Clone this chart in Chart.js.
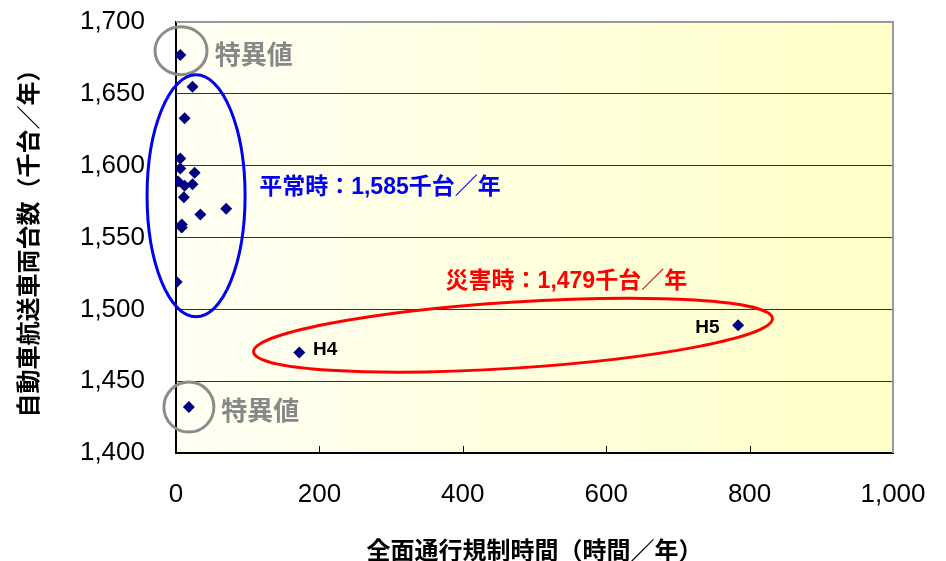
<!DOCTYPE html>
<html>
<head>
<meta charset="utf-8">
<script src="https://cdn.jsdelivr.net/npm/chart.js@4/dist/chart.umd.min.js"></script>
<style>
  html, body { margin: 0; background: #fff; }
  #wrap { width: 946px; height: 561px; }
</style>
</head>
<body>
<div id="wrap"><canvas id="chart"></canvas></div>
<script>
// 全面通行規制時間 (時間/年) and 自動車航送車両台数 (千台/年), one entry per year
const restrictHours = [6, 23, 12, 6, 6, 26, 3, 12, 23, 11, 34, 70, 8, 8, 1, 18, 172, 784];
const ferryVehicles = [1677, 1655, 1633, 1605, 1598, 1595, 1589, 1586, 1587, 1578, 1566, 1570, 1559, 1557, 1519, 1432, 1470, 1489];

const xTicks = [0, 200, 400, 600, 800, 1000];
const yTicks = [1400, 1450, 1500, 1550, 1600, 1650, 1700];

const xTitle = "全面通行規制時間（時間／年）";
const yTitle = "自動車航送車両台数（千台／年）";

// annotation texts
const noteTexts = ["特異値", "特異値", "平常時：1,585千台／年", "災害時：1,479千台／年", "H4", "H5"];

const FONT = '"Liberation Sans", "Noto Sans CJK JP", sans-serif';

// annotation placement (data coords), drawn by the plugin below
const notes = [
  { x: 54, y: 1676, size: 26, color: "#888888", width: 78 },
  { x: 63, y: 1428, size: 26, color: "#888888", width: 78 },
  { x: 116, y: 1585, size: 23, color: "#0000F0", width: 253 },
  { x: 376, y: 1519, size: 23, color: "#FF0000", width: 257 },
  { x: 191, y: 1472, size: 19, color: "#000000", width: 27 },
  { x: 758, y: 1487, size: 19, color: "#000000", width: 27, align: "right" }
];
const rings = [
  { x: 7, y: 1680, rx: 26, ry: 24, rot: 0, color: "#8C8C8C" },
  { x: 18, y: 1432, rx: 25, ry: 25, rot: 0, color: "#8C8C8C" },
  { x: 28, y: 1579, rx: 49, ry: 121, rot: 0, color: "#0000F0" },
  { x: 470, y: 1482, rx: 260, ry: 33, rot: -3.7, color: "#FF0000" }
];

const decor = {
  id: "decor",
  beforeDraw(chart) {
    const { ctx, chartArea: a } = chart;
    const g = ctx.createLinearGradient(a.left, 0, a.right, 0);
    g.addColorStop(0, "#FFFFF4");
    g.addColorStop(1, "#FFFFC8");
    ctx.save();
    ctx.fillStyle = g;
    ctx.fillRect(a.left, a.top, a.right - a.left, a.bottom - a.top);
    ctx.restore();
  },
  afterDatasetsDraw(chart) {
    const { ctx, chartArea: a, scales: { x, y } } = chart;
    ctx.save();
    // top / right frame
    ctx.strokeStyle = "#999999";
    ctx.lineWidth = 2;
    ctx.beginPath();
    ctx.moveTo(a.left, a.top);
    ctx.lineTo(a.right, a.top);
    ctx.lineTo(a.right, a.bottom);
    ctx.stroke();
    // inner tick marks on the x axis
    ctx.strokeStyle = "#000";
    ctx.lineWidth = 1;
    xTicks.slice(1, -1).forEach(v => {
      const px = Math.round(x.getPixelForValue(v)) + 0.5;
      ctx.beginPath();
      ctx.moveTo(px, a.bottom);
      ctx.lineTo(px, a.bottom - 7);
      ctx.stroke();
    });
    // ellipses
    ctx.lineWidth = 3;
    rings.forEach(r => {
      ctx.strokeStyle = r.color;
      ctx.beginPath();
      ctx.ellipse(x.getPixelForValue(r.x), y.getPixelForValue(r.y), r.rx, r.ry, r.rot * Math.PI / 180, 0, Math.PI * 2);
      ctx.stroke();
    });
    // texts
    ctx.textBaseline = "middle";
    notes.forEach((n, i) => {
      ctx.font = "bold " + n.size + "px " + FONT;
      ctx.fillStyle = n.color;
      ctx.textAlign = n.align || "left";
      ctx.fillText(noteTexts[i], x.getPixelForValue(n.x), y.getPixelForValue(n.y), n.width);
    });
    ctx.restore();
  }
};

const points = restrictHours.map((h, i) => ({ x: h, y: ferryVehicles[i] }));

new Chart(document.getElementById("chart"), {
  type: "scatter",
  data: {
    datasets: [{
      data: points,
      pointStyle: "rectRot",
      pointRadius: 6,
      pointHoverRadius: 6,
      backgroundColor: "#000080",
      borderColor: "#000080",
      borderWidth: 0
    }]
  },
  options: {
    responsive: true,
    maintainAspectRatio: false,
    animation: false,
    layout: { padding: { top: 22, right: 53, left: 0, bottom: 0 } },
    plugins: {
      legend: { display: false },
      tooltip: { enabled: false }
    },
    scales: {
      x: {
        type: "linear",
        min: 0,
        max: 1000,
        afterBuildTicks: s => { s.ticks = xTicks.map(v => ({ value: v })); },
        afterFit: s => { s.height = 108; s.paddingLeft = 0; s.paddingRight = 0; },
        grid: { display: false, drawTicks: false },
        border: { display: true, color: "#000", width: 2 },
        ticks: {
          padding: 26,
          color: "#000",
          font: { family: FONT, size: 26 }
        },
        title: {
          display: true,
          text: xTitle,
          color: "#000",
          font: { family: FONT, size: 24, weight: "bold", lineHeight: 0.7 },
          padding: { top: 0, bottom: 0 }
        }
      },
      y: {
        type: "linear",
        min: 1400,
        max: 1700,
        afterBuildTicks: s => { s.ticks = yTicks.map(v => ({ value: v })); },
        afterFit: s => { s.width = 176; s.paddingTop = 0; s.paddingBottom = 0; },
        grid: { color: "#333333", lineWidth: 1, drawTicks: false },
        border: { display: true, color: "#000", width: 2 },
        ticks: {
          padding: 31,
          color: "#000",
          font: { family: FONT, size: 26 }
        },
        title: {
          display: true,
          text: yTitle,
          color: "#000",
          font: { family: FONT, size: 24, weight: "bold", lineHeight: 1 },
          padding: { top: 18, bottom: 0 }
        }
      }
    }
  },
  plugins: [decor]
});
</script>
</body>
</html>
